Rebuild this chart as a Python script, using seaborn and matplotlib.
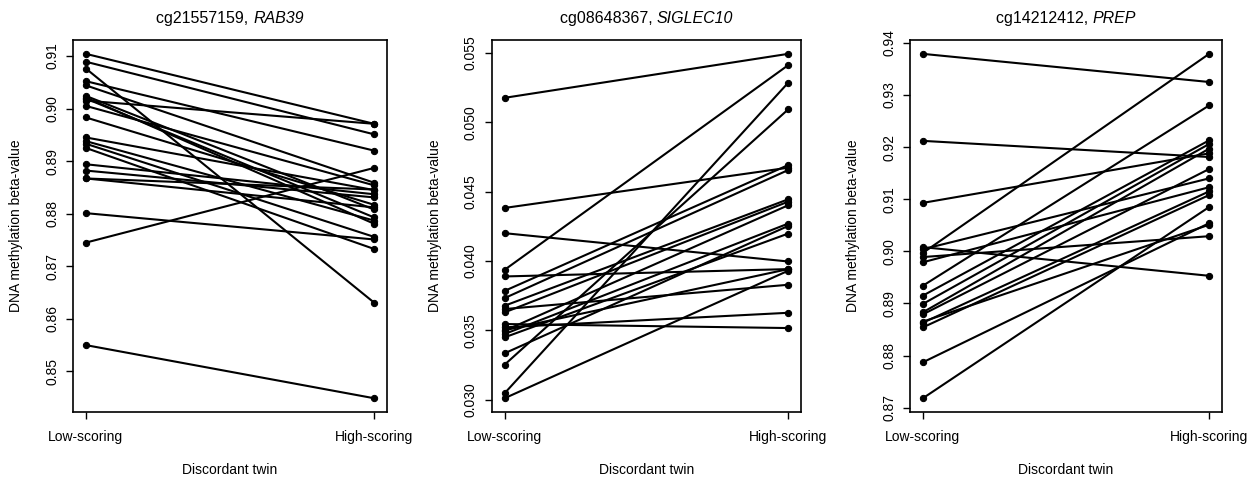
import matplotlib
matplotlib.use("Agg")
import matplotlib.pyplot as plt
import seaborn as sns
import pandas as pd

twin_labels = ["Low-scoring", "High-scoring"]

probe_ids = ["cg21557159, ", "cg08648367, ", "cg14212412, "]
gene_names = ["RAB39", "SIGLEC10", "PREP"]

rab39_low = [0.9104, 0.9089, 0.9076, 0.9052, 0.9044, 0.9024, 0.9019, 0.9015, 0.9005, 0.8983,
             0.8945, 0.8938, 0.8933, 0.8925, 0.8894, 0.8882, 0.8867, 0.8867, 0.8801, 0.8745,
             0.8550, 0.9021]
rab39_high = [0.8971, 0.8951, 0.8631, 0.8920, 0.8859, 0.8808, 0.8793, 0.8971, 0.8854, 0.8817,
              0.8845, 0.8787, 0.8756, 0.8733, 0.8837, 0.8831, 0.8846, 0.8812, 0.8751, 0.8887,
              0.8449, 0.8781]

siglec10_low = [0.05176, 0.04382, 0.04200, 0.03936, 0.03888, 0.03010, 0.03046, 0.03252, 0.03334,
                0.03784, 0.03732, 0.03677, 0.03653, 0.03629, 0.03545, 0.03521, 0.03497, 0.03473,
                0.03449, 0.03500]
siglec10_high = [0.05493, 0.04672, 0.03996, 0.05411, 0.03941, 0.03929, 0.05284, 0.05092, 0.04252,
                 0.04691, 0.04655, 0.04444, 0.03828, 0.04427, 0.03516, 0.03626, 0.04401, 0.04269,
                 0.04197, 0.03941]

prep_low = [0.9379, 0.9212, 0.9093, 0.8718, 0.8787, 0.9008, 0.8997, 0.8989, 0.9004, 0.8979,
            0.8934, 0.8915, 0.8899, 0.8883, 0.8879, 0.8863, 0.8854, 0.8865]
prep_high = [0.9325, 0.9181, 0.9188, 0.9085, 0.9054, 0.8953, 0.9379, 0.9029, 0.9140, 0.9123,
             0.9280, 0.9213, 0.9206, 0.9197, 0.9158, 0.9115, 0.9108, 0.9051]

yticks = [
    [0.85, 0.86, 0.87, 0.88, 0.89, 0.90, 0.91],
    [0.030, 0.035, 0.040, 0.045, 0.050, 0.055],
    [0.87, 0.88, 0.89, 0.90, 0.91, 0.92, 0.93, 0.94],
]
ytick_labels = [
    ["0.85", "0.86", "0.87", "0.88", "0.89", "0.90", "0.91"],
    ["0.030", "0.035", "0.040", "0.045", "0.050", "0.055"],
    ["0.87", "0.88", "0.89", "0.90", "0.91", "0.92", "0.93", "0.94"],
]

panels = [(rab39_low, rab39_high), (siglec10_low, siglec10_high), (prep_low, prep_high)]

sns.set_style("white")
plt.rcParams["font.family"] = ["Liberation Sans", "DejaVu Sans"]
for key in ["text.color", "axes.labelcolor", "xtick.color", "ytick.color"]:
    plt.rcParams[key] = "black"

fig = plt.figure(figsize=(12.58, 4.83), dpi=100)
lefts = [0.058, 0.391, 0.7234]
widths = [0.2496, 0.2456, 0.248]
title_parts = []

for i, (low, high) in enumerate(panels):
    ax = fig.add_axes([lefts[i], 0.147, widths[i], 0.770])
    rows = []
    for k, (a, b) in enumerate(zip(low, high)):
        rows.append({"pair": k, "twin": 0, "value": a})
        rows.append({"pair": k, "twin": 1, "value": b})
    df = pd.DataFrame(rows)
    sns.lineplot(data=df, x="twin", y="value", units="pair", estimator=None,
                 color="black", linewidth=1.5, marker="o", markersize=4.5,
                 markeredgecolor="black", ax=ax, legend=False)
    ax.set_xlim(-0.045, 1.045)
    ax.margins(y=0.04)
    ax.set_xticks([0, 1])
    ax.set_xticklabels(twin_labels, fontsize=10)
    ax.set_yticks(yticks[i])
    ax.set_yticklabels(ytick_labels[i], fontsize=10, rotation=90, va="center")
    ax.tick_params(axis="both", direction="out", length=5, width=1, color="black",
                   left=True, bottom=True, pad=5)
    ax.tick_params(axis="x", pad=8)
    for s in ax.spines.values():
        s.set_visible(True)
        s.set_color("black")
        s.set_linewidth(1.2)
    ax.set_xlabel("Discordant twin", fontsize=10, labelpad=14)
    ax.set_ylabel("DNA methylation beta-value", fontsize=10, labelpad=16)
    cx = lefts[i] + widths[i] / 2
    t1 = fig.text(cx, 0.952, probe_ids[i], fontsize=11.5, ha="left", va="baseline")
    t2 = fig.text(cx, 0.952, gene_names[i], fontsize=11.5, style="italic",
                  ha="left", va="baseline")
    title_parts.append((cx, t1, t2))

fig.canvas.draw()
renderer = fig.canvas.get_renderer()
fw = fig.get_size_inches()[0] * fig.dpi
for cx, t1, t2 in title_parts:
    w1 = t1.get_window_extent(renderer).width / fw
    w2 = t2.get_window_extent(renderer).width / fw
    start = cx - (w1 + w2) / 2
    t1.set_x(start)
    t2.set_x(start + w1)

fig.savefig("out.png", dpi=100)
